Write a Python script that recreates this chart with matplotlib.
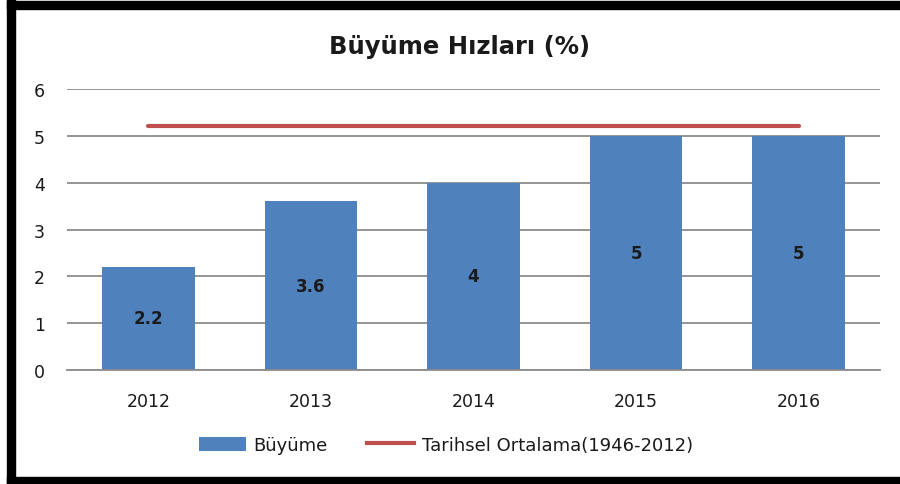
import matplotlib
matplotlib.use("Agg")
import matplotlib.pyplot as plt
from matplotlib.patches import Rectangle
from matplotlib.lines import Line2D
from matplotlib.patches import Patch

years = ['2012', '2013', '2014', '2015', '2016']
growth = [2.2, 3.6, 4, 5, 5]
hist_avg = [5.2, 5.2, 5.2, 5.2, 5.2]

BLUE = '#4F81BD'
RED = '#C0504D'
GRID = '#8C8C8C'

plt.rcParams['font.family'] = ['DejaVu Sans']

fig = plt.figure(figsize=(9, 4.85), dpi=100)
ax = fig.add_axes([67 / 900, 114 / 485, (880 - 67) / 900, (371 - 90) / 485])

x = range(len(years))
bars = ax.bar(x, growth, width=0.57, color=BLUE, zorder=2)
ax.plot(x, hist_avg, color=RED, linewidth=3.0, solid_capstyle='round', zorder=3)

for rect, v in zip(bars, growth):
    ax.text(rect.get_x() + rect.get_width() / 2, v / 2, f'{v:g}',
            ha='center', va='center', fontsize=12, fontweight='bold', color='#1a1a1a', zorder=4)

ax.set_xlim(-0.5, len(years) - 0.5)
ax.set_ylim(0, 6)
ax.set_yticks(range(0, 7))
ax.set_xticks(list(x))
ax.set_xticklabels(years)
ax.tick_params(axis='both', length=0, labelsize=12.5, colors='#1a1a1a')
ax.tick_params(axis='y', pad=16)
ax.tick_params(axis='x', pad=16)
ax.yaxis.grid(True, color=GRID, linewidth=1.3, zorder=0)
ax.set_axisbelow(True)
for s in ['top', 'right', 'left']:
    ax.spines[s].set_visible(False)
ax.spines['bottom'].set_color(GRID)
ax.spines['bottom'].set_linewidth(1.3)

fig.text(460 / 900, 1 - 47 / 485, 'Büyüme Hızları (%)', ha='center', va='center',
         fontsize=17.5, fontweight='bold', color='#1a1a1a')

handles = [Patch(facecolor=BLUE, edgecolor='none', label='Büyüme'),
           Line2D([0], [0], color=RED, linewidth=3.0, label='Tarihsel Ortalama(1946-2012)')]
fig.legend(handles=handles, loc='center', bbox_to_anchor=(446 / 900, 39 / 485), ncol=2,
           frameon=False, fontsize=13, handlelength=2.6, handleheight=0.8,
           handletextpad=0.4, columnspacing=2.2, labelcolor='#1a1a1a')

# black frame on left, top, bottom
for (fx, fy, fw, fh) in [(7, 0, 8, 485), (7, 2, 893, 8), (7, 478, 893, 7)]:
    fig.add_artist(Rectangle((fx / 900, 1 - (fy + fh) / 485), fw / 900, fh / 485,
                             transform=fig.transFigure, color='black', zorder=10))

fig.savefig('out.png', dpi=100)
